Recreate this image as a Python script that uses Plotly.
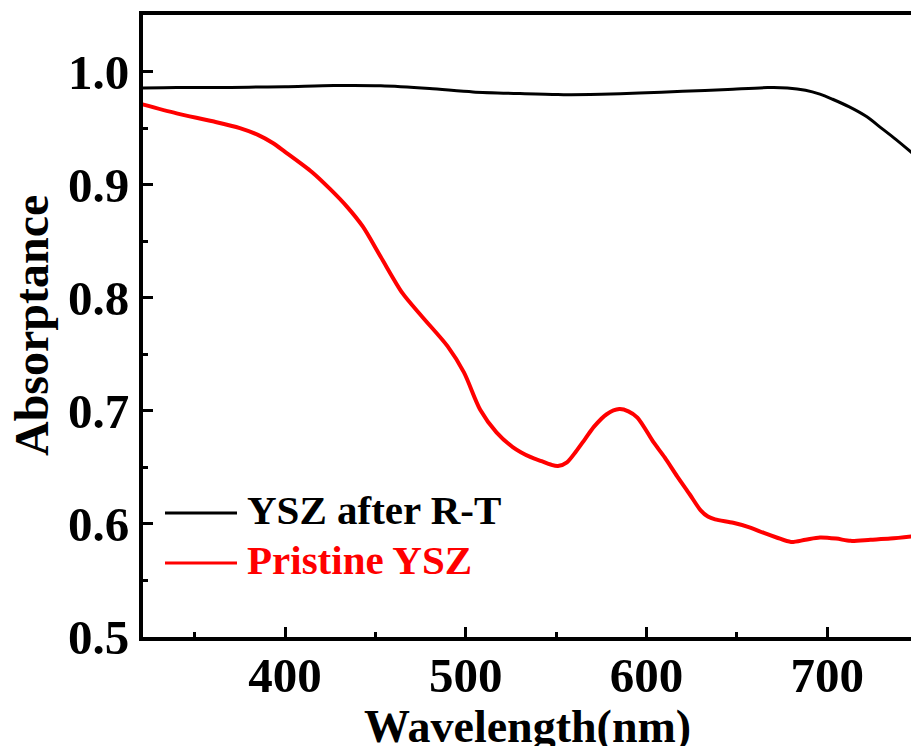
import plotly.graph_objects as go

# Absorptance spectra (wavelength in nm)
wl_rt = [321, 340, 360, 380, 400, 427, 453, 480, 504, 530, 551, 575, 596, 620, 645, 667, 678, 688, 696, 703, 712, 722, 730, 738, 747]
abs_rt = [0.9855, 0.9860, 0.9858, 0.9862, 0.9866, 0.9876, 0.9874, 0.9850, 0.9820, 0.9805, 0.9796, 0.9800, 0.9810, 0.9825, 0.9842, 0.9858, 0.9855, 0.9835, 0.9800, 0.9755, 0.9690, 0.9600, 0.9500, 0.9400, 0.9280]

wl_pr = [321, 340, 360, 375, 385, 393, 400, 415, 425, 434, 443, 453, 465, 476, 490, 499, 508, 517, 526, 536, 542, 547, 551, 556, 561, 566, 571, 578, 585, 590, 595, 604, 610, 617, 624, 630, 634, 638, 648, 657, 665, 672, 680, 688, 696, 705, 713, 724, 735, 747]
abs_pr = [0.9710, 0.9630, 0.9560, 0.9500, 0.9440, 0.9370, 0.9290, 0.9110, 0.8960, 0.8810, 0.8630, 0.8360, 0.8040, 0.7830, 0.7570, 0.7340, 0.7010, 0.6810, 0.6680, 0.6590, 0.6555, 0.6525, 0.6512, 0.6545, 0.6640, 0.6750, 0.6860, 0.6970, 0.7015, 0.6995, 0.6940, 0.6720, 0.6590, 0.6420, 0.6260, 0.6120, 0.6065, 0.6040, 0.6010, 0.5970, 0.5920, 0.5880, 0.5840, 0.5860, 0.5880, 0.5870, 0.5850, 0.5860, 0.5870, 0.5890]

series_names = ["YSZ after R-T", "Pristine YSZ"]
series_colors = ["#000000", "#ff0000"]

x_ticks = [400, 500, 600, 700]
y_ticks = [0.5, 0.6, 0.7, 0.8, 0.9, 1.0]
y_tick_text = ["0.5", "0.6", "0.7", "0.8", "0.9", "1.0"]

FONT = "Liberation Serif, Times New Roman, serif"

fig = go.Figure()
fig.add_trace(go.Scatter(x=wl_rt, y=abs_rt, mode="lines", line=dict(color=series_colors[0], width=3, shape="spline", smoothing=0.8),
                         name=series_names[0], showlegend=False))
fig.add_trace(go.Scatter(x=wl_pr, y=abs_pr, mode="lines", line=dict(color=series_colors[1], width=4, shape="spline", smoothing=0.8),
                         name=series_names[1], showlegend=False))

W, H = 911, 746
L, R, T, B = 143, 0, 15, 109
pw, ph = W - L - R, H - T - B


def px(x):
    return (x - L) / pw


def py(y):
    return (H - B - y) / ph


axis_common = dict(
    showgrid=False, zeroline=False, showline=True, linecolor="black", linewidth=4,
    ticks="inside", ticklen=10, tickwidth=3, tickcolor="black",
    tickfont=dict(family=FONT, size=49, color="black", weight="bold"),
)

fig.update_xaxes(range=[321.4, 746.4], tickvals=x_ticks, mirror=True, ticklabelstandoff=-8,
                 minor=dict(dtick=50, ticks="inside", ticklen=5, tickwidth=3, tickcolor="black"),
                 **axis_common)
fig.update_yaxes(range=[0.5, 1.05], tickvals=y_ticks, ticktext=y_tick_text, mirror=False,
                 minor=dict(dtick=0.05, ticks="inside", ticklen=5, tickwidth=3, tickcolor="black"),
                 **axis_common)

annotations = [
    dict(text="<b>Wavelength(nm)</b>", xref="paper", yref="paper", x=0.5, y=py(726),
         xanchor="center", yanchor="middle", showarrow=False,
         font=dict(family=FONT, size=46, color="black")),
    dict(text="<b>Absorptance</b>", xref="paper", yref="paper", x=px(31), y=0.5,
         xanchor="center", yanchor="middle", textangle=-90, showarrow=False,
         font=dict(family=FONT, size=48, color="black")),
]
legend_rows = [510, 560]
shapes = []
for name, color, yc in zip(series_names, series_colors, legend_rows):
    shapes.append(dict(type="line", xref="paper", yref="paper", x0=px(165), x1=px(237),
                       y0=py(yc + 3), y1=py(yc + 3), line=dict(color=color, width=3)))
    annotations.append(dict(text=f"<b>{name}</b>", xref="paper", yref="paper", x=px(245), y=py(yc),
                            xanchor="left", yanchor="middle", showarrow=False,
                            font=dict(family=FONT, size=41, color=color)))

fig.update_layout(
    width=W, height=H, margin=dict(l=L, r=R, t=T, b=B),
    plot_bgcolor="white", paper_bgcolor="white",
    annotations=annotations, shapes=shapes, showlegend=False,
)

fig.write_html("out.html")
